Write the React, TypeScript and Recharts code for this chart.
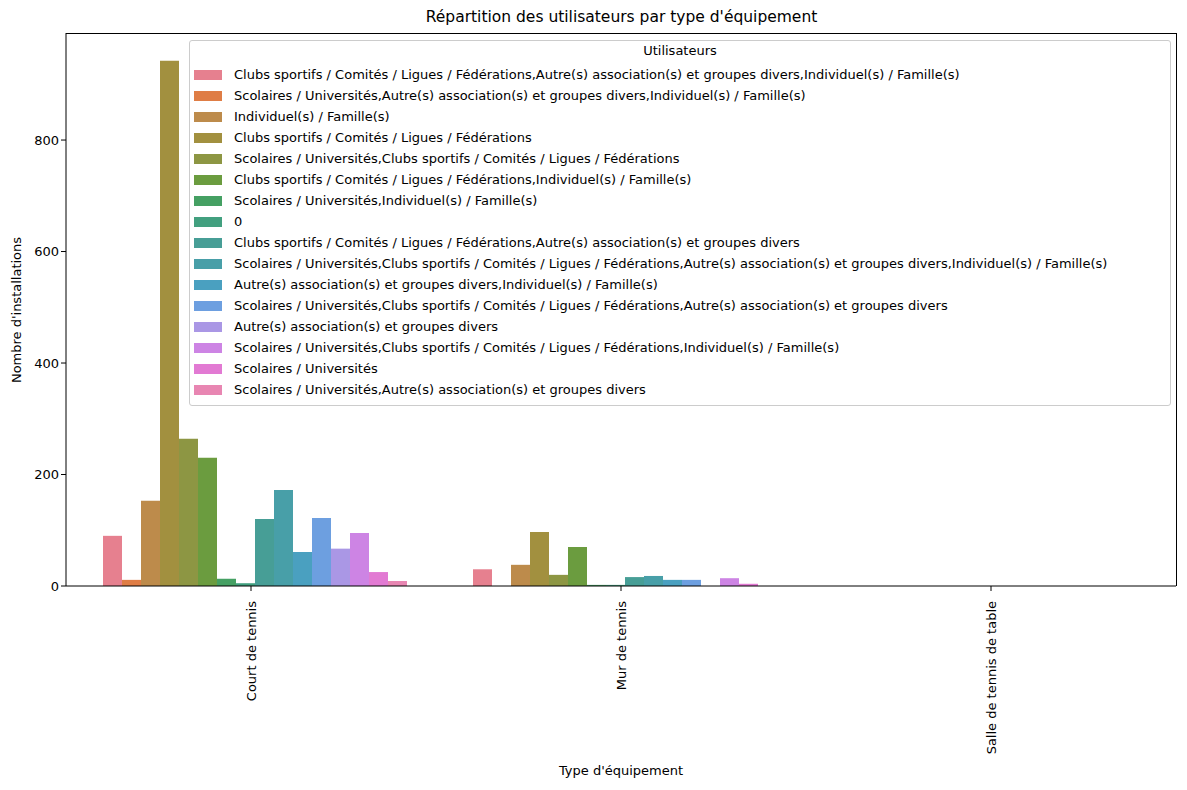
import React from "react";
import { BarChart, Bar, XAxis, YAxis, CartesianGrid } from "recharts";

const categories = ["Court de tennis", "Mur de tennis", "Salle de tennis de table"];

const seriesNames = [
  "Clubs sportifs / Comités / Ligues / Fédérations,Autre(s) association(s) et groupes divers,Individuel(s) / Famille(s)",
  "Scolaires / Universités,Autre(s) association(s) et groupes divers,Individuel(s) / Famille(s)",
  "Individuel(s) / Famille(s)",
  "Clubs sportifs / Comités / Ligues / Fédérations",
  "Scolaires / Universités,Clubs sportifs / Comités / Ligues / Fédérations",
  "Clubs sportifs / Comités / Ligues / Fédérations,Individuel(s) / Famille(s)",
  "Scolaires / Universités,Individuel(s) / Famille(s)",
  "0",
  "Clubs sportifs / Comités / Ligues / Fédérations,Autre(s) association(s) et groupes divers",
  "Scolaires / Universités,Clubs sportifs / Comités / Ligues / Fédérations,Autre(s) association(s) et groupes divers,Individuel(s) / Famille(s)",
  "Autre(s) association(s) et groupes divers,Individuel(s) / Famille(s)",
  "Scolaires / Universités,Clubs sportifs / Comités / Ligues / Fédérations,Autre(s) association(s) et groupes divers",
  "Autre(s) association(s) et groupes divers",
  "Scolaires / Universités,Clubs sportifs / Comités / Ligues / Fédérations,Individuel(s) / Famille(s)",
  "Scolaires / Universités",
  "Scolaires / Universités,Autre(s) association(s) et groupes divers",
];

const colors = [
  "#e6808f", "#df7d45", "#bd8b4b", "#a2903f", "#8d9643", "#6b9c3f", "#45a063", "#42a07f",
  "#479e96", "#489fa8", "#4aa0c0", "#6d9fe0", "#aa97e5", "#cd84e4", "#e27ad3", "#e886b2",
];

// values per series: [Court, Mur, Salle]
const courtValues = [90, 11, 153, 942, 264, 230, 13, 5, 120, 172, 61, 122, 67, 95, 25, 9];
const murValues = [30, 0, 38, 97, 20, 70, 2, 2, 16, 18, 11, 11, 0, 14, 4, 0];
const salleValues = [0, 0, 0, 0, 0, 0, 0, 0, 0, 0, 0, 0, 0, 0, 0, 0];

const yTicks = [0, 200, 400, 600, 800];

const allValues = [courtValues, murValues, salleValues];
const data = categories.map((c, ci) => {
  const row: Record<string, any> = { name: c };
  seriesNames.forEach((_, si) => (row["s" + si] = allValues[ci][si]));
  return row;
});

const font = "'DejaVu Sans', sans-serif";

const RotTick = (props: any) => {
  const { x, y, payload } = props;
  return (
    <text x={x} y={y + 8} transform={`rotate(-90, ${x}, ${y + 8})`} textAnchor="end" dominantBaseline="central" fontSize={13} fill="#000" fontFamily={font}>
      {payload.value}
    </text>
  );
};

export default function App() {
  return (
    <div style={{ position: "relative", width: 1187, height: 790, margin: -8, background: "#fff", fontFamily: font }}>
      <div style={{ position: "absolute", top: 8, width: 1187, left: 28, textAlign: "center", fontSize: 15.5 }}>
        Répartition des utilisateurs par type d'équipement
      </div>
      <BarChart width={1187} height={790} data={data} margin={{ top: 33, right: 11, left: 0, bottom: 0 }} barCategoryGap="10%" barGap={0}>
        <CartesianGrid stroke="none" />
        <XAxis dataKey="name" height={204} tick={<RotTick />} tickLine={{ stroke: "#000" }} axisLine={{ stroke: "#000" }} tickSize={5} interval={0} />
        <YAxis width={66} domain={[0, 992]} ticks={yTicks} tick={{ fontSize: 13, fill: "#000", fontFamily: font }} tickLine={{ stroke: "#000" }} axisLine={{ stroke: "#000" }} tickSize={5} />
        {seriesNames.map((n, i) => (
          <Bar key={i} dataKey={"s" + i} name={n} fill={colors[i]} isAnimationActive={false} />
        ))}
      </BarChart>
      <div style={{ position: "absolute", left: 1176, top: 33, width: 0, height: 553, borderLeft: "1px solid #000" }} />
      <div style={{ position: "absolute", left: 66, top: 33, width: 1110, height: 0, borderTop: "1px solid #000" }} />
      <div style={{ position: "absolute", top: 763, left: 66, width: 1110, textAlign: "center", fontSize: 13 }}>Type d'équipement</div>
      <div style={{ position: "absolute", left: 16, top: 310, transform: "translate(-50%, -50%) rotate(-90deg)", fontSize: 13, whiteSpace: "nowrap" }}>
        Nombre d'installations
      </div>
      <div style={{ position: "absolute", left: 189, top: 40, width: 980, height: 364, border: "1px solid #ccc", borderRadius: 3, background: "rgba(255,255,255,0.8)", fontSize: 13 }}>
        <div style={{ textAlign: "center", marginTop: 2, height: 21 }}>Utilisateurs</div>
        {seriesNames.map((n, i) => (
          <div key={i} style={{ display: "flex", alignItems: "center", height: 21, marginLeft: 4 }}>
            <span style={{ display: "inline-block", width: 28, height: 10, background: colors[i], marginRight: 12 }} />
            <span style={{ whiteSpace: "nowrap" }}>{n}</span>
          </div>
        ))}
      </div>
    </div>
  );
}
